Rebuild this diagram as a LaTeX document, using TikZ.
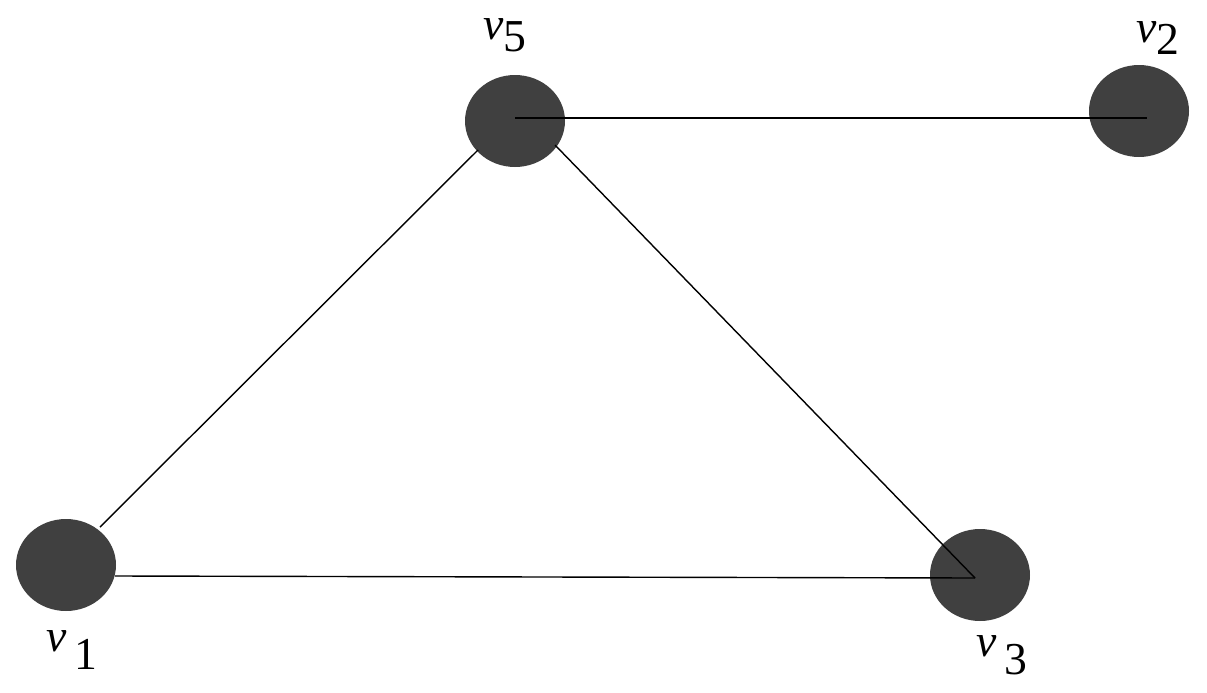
\documentclass[tikz,border=0pt]{standalone}
\usepackage{fontspec}
\usetikzlibrary{shapes.geometric}
\setmainfont{Liberation Serif}
\definecolor{vfill}{HTML}{404040}
\begin{document}
\begin{tikzpicture}[x=0.02cm,y=-0.02cm,
  vert/.style={ellipse,fill=vfill,minimum width=100*0.02cm,minimum height=92*0.02cm,inner sep=0pt},
  edge/.style={draw=black,line width=0.8pt},
  lbl/.style={font=\fontsize{26}{30}\selectfont,inner sep=0pt}]
\useasboundingbox (0,0) rectangle (1207,693);
\node[vert] (v5) at (515,121) {};
\node[vert] (v2) at (1139,111) {};
\node[vert] (v1) at (66,565) {};
\node[vert] (v3) at (980,575) {};
\coordinate (c5) at (515,118);
\coordinate (c2) at (1147,118);
\coordinate (a1) at (100,527);
\coordinate (a5) at (478,150);
\coordinate (b5) at (555,145);
\coordinate (c3) at (975,578);
\coordinate (d1) at (115,576);
\draw[edge] (c5) -- (c2);
\draw[edge] (a1) -- (a5);
\draw[edge] (b5) -- (c3);
\draw[edge] (d1) -- (c3);
\node[lbl] (l5) at (505,35) {\textit{v}\raisebox{-7pt}{5}};
\node[lbl] (l2) at (1158,38) {\textit{v}\raisebox{-7pt}{2}};
\node[lbl] (l1) at (72,650) {\textit{v}\,\raisebox{-10pt}{1}};
\node[lbl] (l3) at (1002,655) {\textit{v}\,\raisebox{-10pt}{3}};
\end{tikzpicture}
\end{document}
